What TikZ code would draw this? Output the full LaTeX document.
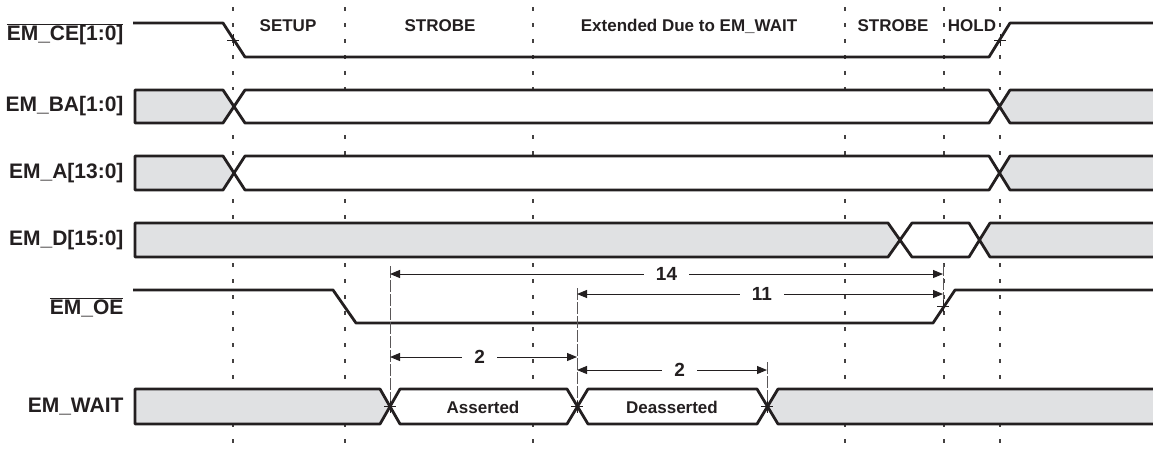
\documentclass[tikz,border=0pt]{standalone}
\usepackage{fontspec}
\setmainfont{Liberation Sans}
\usetikzlibrary{arrows.meta}
\definecolor{ink}{HTML}{231F20}
\definecolor{busgrey}{HTML}{E0E1E3}

\begin{document}
\begin{tikzpicture}[x=1pt, y=-1pt,
  wave/.style={line width=2.8pt, line join=round, draw=ink},
  gridline/.style={line width=1.2pt, draw=ink!85, dash pattern=on 4pt off 12pt},
  extline/.style={line width=0.7pt, draw=ink!75, dash pattern=on 12pt off 2pt},
  dim/.style={line width=1pt, draw=ink, {Triangle[length=10pt,width=8pt]}-{Triangle[length=10pt,width=8pt]}},
  dimlabel/.style={fill=white, inner xsep=12pt, inner ysep=1pt, font=\fontsize{19}{21}\selectfont\bfseries, text=ink},
  signame/.style={anchor=east, font=\fontsize{21}{23}\selectfont\bfseries, text=ink},
  phase/.style={font=\fontsize{17}{19}\selectfont\bfseries, text=ink},
  tick/.style={line width=0.8pt, draw=ink}]
\useasboundingbox (0,0) rectangle (1153,456);

% time grid
\foreach \x in {233,345,533,845,944,1000}
  \draw[gridline] (\x,7) -- (\x,452);

% phase labels
\node[phase] (setup) at (288,26) {SETUP};
\node[phase] (strobe1) at (440,26) {STROBE};
\node[phase] (extended) at (689,26) {Extended Due to EM\_WAIT};
\node[phase] (strobe2) at (893,26) {STROBE};
\node[phase] (hold) at (972,26) {HOLD};

% signal names
\node[signame] (ce) at (127,34) {$\overline{\mbox{EM\_CE[1:0]}}$};
\node[signame] (ba) at (127,106.5) {EM\_BA[1:0]};
\node[signame] (addr) at (127,173) {EM\_A[13:0]};
\node[signame] (data) at (127,240) {EM\_D[15:0]};
\node[signame] (oe) at (127,307) {$\overline{\mbox{EM\_OE}}$};
\node[signame] (wait) at (127,406.5) {EM\_WAIT};

% chip enable
\draw[wave] (133,23) -- (223,23) -- (245,57) -- (989,57) -- (1010,23) -- (1153,23);
\coordinate (cefall) at (233,40);
\coordinate (cerise) at (1000,40);

% bank and address busses
\foreach \t/\m/\b in {90/106.5/123, 156/173/190} {
  \fill[white] (135,\t) rectangle (1153,\b);
  \fill[busgrey] (135,\t) -- (223,\t) -- (233,\m) -- (223,\b) -- (135,\b) -- cycle;
  \fill[busgrey] (1153,\t) -- (1010,\t) -- (1000,\m) -- (1010,\b) -- (1153,\b) -- cycle;
  \draw[wave] (1153,\t) -- (1010,\t) -- (989,\b) -- (245,\b) -- (223,\t) -- (135,\t)
    -- (135,\b) -- (223,\b) -- (245,\t) -- (989,\t) -- (1010,\b) -- (1153,\b);
}

% data bus
\fill[white] (135,223) rectangle (1153,257);
\fill[busgrey] (135,223) -- (888,223) -- (900,240) -- (888,257) -- (135,257) -- cycle;
\fill[busgrey] (1153,223) -- (990,223) -- (978,240) -- (990,257) -- (1153,257) -- cycle;
\draw[wave] (1153,223) -- (990,223) -- (969,257) -- (912,257) -- (888,223) -- (135,223)
  -- (135,257) -- (888,257) -- (912,223) -- (969,223) -- (990,257) -- (1153,257);

% output enable
\draw[wave] (133,290) -- (333,290) -- (356,323) -- (933,323) -- (955,290) -- (1153,290);
\coordinate (oerise) at (943,306);

% wait
\fill[white] (135,389) rectangle (1153,424);
\fill[busgrey] (135,389) -- (380,389) -- (390,406.5) -- (380,424) -- (135,424) -- cycle;
\fill[busgrey] (1153,389) -- (778,389) -- (767,406.5) -- (778,424) -- (1153,424) -- cycle;
\draw[wave] (1153,389) -- (778,389) -- (757,424) -- (588,424) -- (567,389) -- (400,389)
  -- (380,424) -- (135,424) -- (135,389) -- (380,389) -- (400,424) -- (567,424)
  -- (588,389) -- (757,389) -- (778,424) -- (1153,424);
\node[phase] (asserted) at (483,407) {Asserted};
\node[phase] (deasserted) at (672,407) {Deasserted};
\coordinate (wasrt) at (390,406.5);
\coordinate (wdeas) at (577,406.5);
\coordinate (wend) at (767,406.5);

% extension lines
\coordinate (e14a) at (390,274);
\coordinate (e14b) at (943,274);
\coordinate (e11a) at (577,294);
\coordinate (e11b) at (943,294);
\coordinate (e2a) at (390,357);
\coordinate (e2b) at (577,357);
\coordinate (e2c) at (577,370);
\coordinate (e2d) at (767,370);
\draw[extline] (390,266) -- (wasrt);
\draw[extline] (577,288) -- (wdeas);
\draw[extline] (767,362) -- (wend);
\draw[extline] (943,264) -- (oerise);

% crossing marks
\foreach \c in {cefall,cerise,oerise,wasrt,wdeas,wend}
  \draw[tick] (\c) ++(-6,0) -- ++(12,0) (\c) ++(0,-6) -- ++(0,12);

% timing arrows
\draw[dim] (e14a) -- node[dimlabel] (n14) {14} (e14b);
\draw[dim] (e11a) -- node[dimlabel, pos=0.505] (n11) {11} (e11b);
\draw[dim] (e2a) -- node[dimlabel, pos=0.48] (n2a) {2} (e2b);
\draw[dim] (e2c) -- node[dimlabel, pos=0.54] (n2b) {2} (e2d);
\end{tikzpicture}
\end{document}
